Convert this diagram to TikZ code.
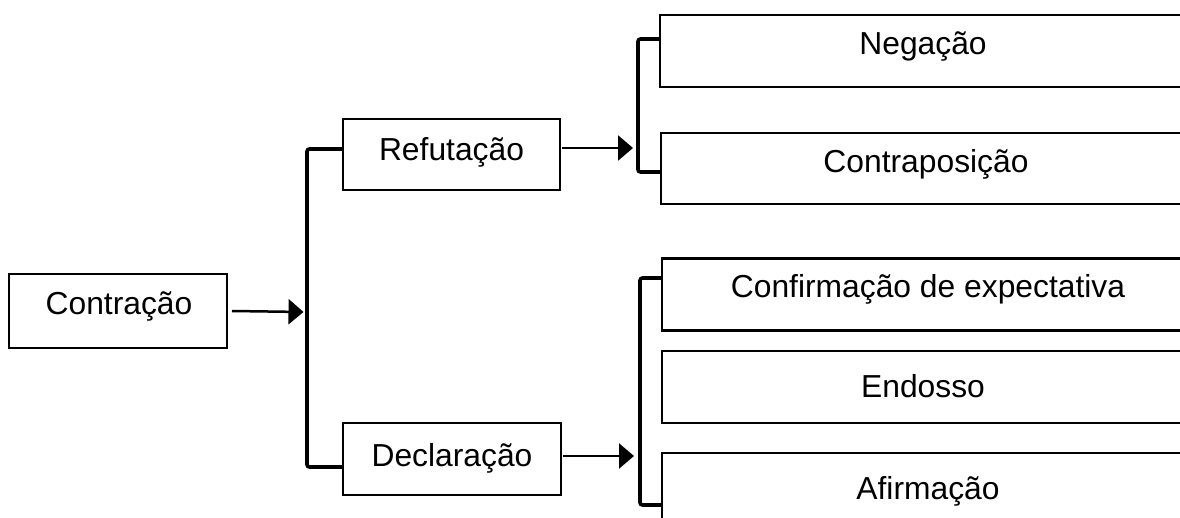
\documentclass[tikz,border=0pt]{standalone}
\usepackage{fontspec}
\setmainfont{Liberation Sans}
\usetikzlibrary{arrows.meta}
\begin{document}
\begin{tikzpicture}[x=1pt,y=-1pt,
  box/.style={draw, line width=2.5pt, rectangle, inner sep=0pt, outer sep=0pt},
  lbl/.style={anchor=base, inner sep=0pt, font=\fontsize{31.8}{36}\selectfont},
  conn/.style={line width=2.5pt, -{Triangle[length=15pt,width=25pt]}},
  brk/.style={line width=3.6pt, rounded corners=2.5pt}]
\useasboundingbox (0,0) rectangle (1180,518);
\clip (0,0) rectangle (1180,518);
% boxes
\node[box, minimum width=218pt, minimum height=74pt] (con) at (118,311) {};
\node[lbl] (conT) at (119,315) {Contração};
\node[box, minimum width=217pt, minimum height=71pt] (ref) at (451.5,154.5) {};
\node[lbl] (refT) at (451.5,161) {Refutação};
\node[box, minimum width=218pt, minimum height=72pt] (dec) at (452,459) {};
\node[lbl] (decT) at (452,466) {Declaração};
\node[box, minimum width=540pt, minimum height=72pt] (neg) at (930,51) {};
\node[lbl] (negT) at (923,54.5) {Negação};
\node[box, minimum width=540pt, minimum height=71pt] (cpo) at (931,168.5) {};
\node[lbl] (cpoT) at (926,173) {Contraposição};
\node[box, minimum width=540pt, minimum height=72pt] (cfe) at (932,294.5) {};
\node[lbl] (cfeT) at (928,298) {Confirmação de expectativa};
\node[box, minimum width=540pt, minimum height=72pt] (endo) at (932,387) {};
\node[lbl] (endoT) at (923,397) {Endosso};
\node[box, minimum width=540pt, minimum height=100pt] (afi) at (932,503) {};
\node[lbl] (afiT) at (928,499) {Afirmação};
% bracket coordinates
\coordinate (b1) at (307,312);
\coordinate (b2) at (638,148);
\coordinate (b3) at (640,456);
% brackets
\draw[brk] ([yshift=5.5pt]ref.west) -- ([yshift=5.5pt]ref.west -| b1) -- ([yshift=-8pt]dec.west -| b1) -- ([yshift=-8pt]dec.west);
\draw[brk] ([yshift=12pt]neg.west) -- ([yshift=12pt]neg.west -| b2) -- ([yshift=-3.5pt]cpo.west -| b2) -- ([yshift=-3.5pt]cpo.west);
\draw[brk] ([yshift=16.5pt]cfe.west) -- ([yshift=16.5pt]cfe.west -| b3) -- ([yshift=-2pt]afi.west -| b3) -- ([yshift=-2pt]afi.west);
% connectors
\draw[conn] ([xshift=5pt]con.east) -- ([xshift=-3.5pt]b1);
\draw[conn] ([xshift=2pt,yshift=6.5pt]ref.east) -- ([xshift=-5pt]b2);
\draw[conn] ([xshift=2pt,yshift=3pt]dec.east) -- ([xshift=-6pt]b3);
\end{tikzpicture}
\end{document}
